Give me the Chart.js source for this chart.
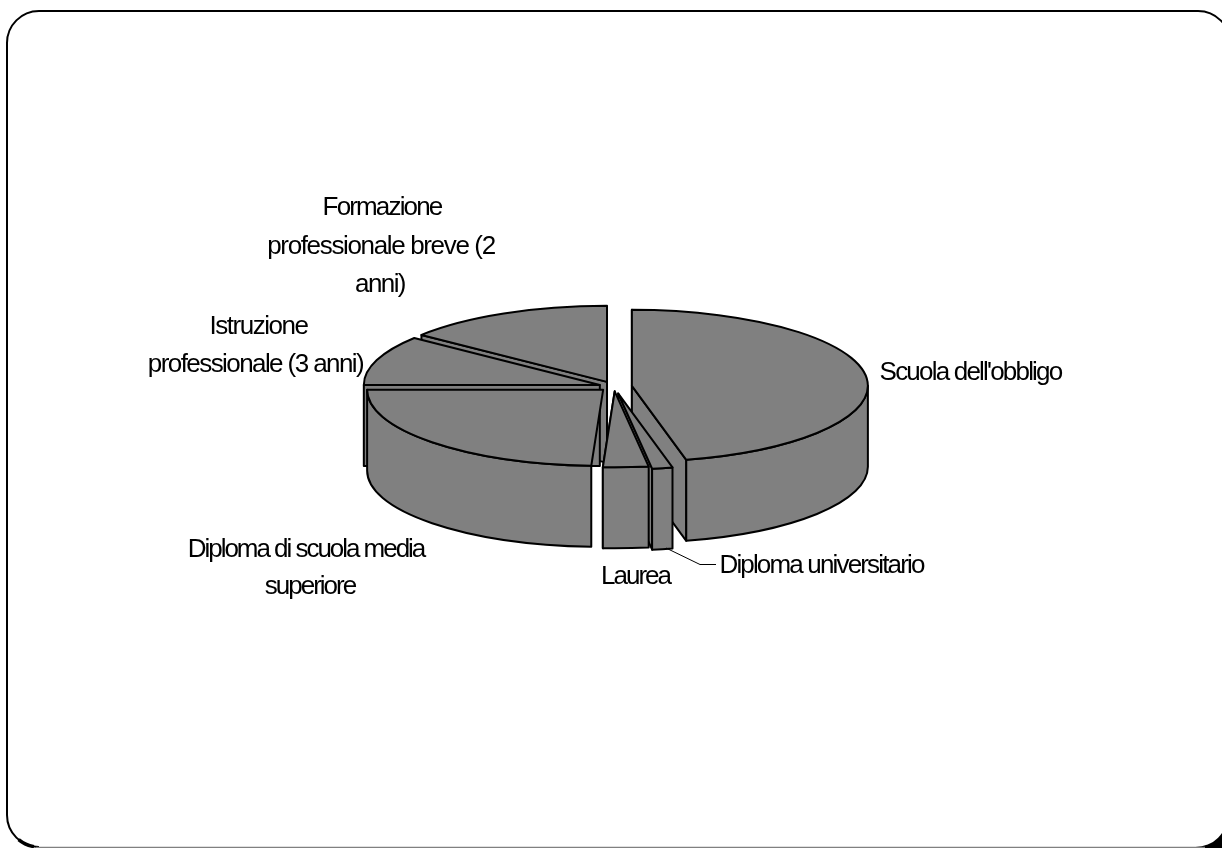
<!DOCTYPE html>
<html>
<head>
<meta charset="utf-8">
<style>html,body{margin:0;padding:0;background:#fff;overflow:hidden}#w{position:absolute;left:0;top:0;width:1222px;height:848px}</style>
<script src="https://cdn.jsdelivr.net/npm/chart.js@4"></script>
</head>
<body>
<div id="w"><canvas id="c" width="1222" height="848"></canvas></div>
<script>
// Data (share, percent)
const categories = ["Scuola dell'obbligo","Diploma universitario","Laurea","Diploma di scuola media superiore","Istruzione professionale (3 anni)","Formazione professionale breve (2 anni)"];
const shares = [46.3,1.4,3.1,24.2,10.6,14.4];
const explosion = [18,22,15,15,15,16];

const labelLines = [
  {lines:["Scuola dell'obbligo"],cx:[970.5],y:373,sp:[1.8]},
  {lines:["Diploma universitario"],cx:[821.5],y:566,sp:[1.84]},
  {lines:["Laurea"],cx:[635.5],y:577,sp:[2]},
  {lines:["Diploma di scuola media","superiore"],cx:[306,310],y:550,step:37,sp:[2.03,2]},
  {lines:["Istruzione","professionale (3 anni)"],cx:[258.5,255.5],y:327,step:38,sp:[1.46,1.58]},
  {lines:["Formazione","professionale breve (2","anni)"],cx:[382,381,380],y:208,step:38.5,sp:[1.85,1.35,1.6]}
];
const squash = 76/236, depth = 81, lineW = 2;

const pie3d = {
  id:'pie3d',
  beforeDraw(chart){
    const c=chart.ctx; c.save();
    c.fillStyle='#fff'; c.fillRect(0,0,1222,848);
    c.fillStyle='#000'; c.fillRect(1180,810,42,38);
    c.fillStyle='#fff'; c.beginPath(); c.roundRect(7,11,1220.5,836,32); c.fill();
    c.strokeStyle='#000'; c.lineWidth=2;
    c.beginPath();
    c.moveTo(1230,43); c.arcTo(1230,11,1198,11,32); c.lineTo(39,11); c.arcTo(7,11,7,43,32); c.lineTo(7,815);
    c.arcTo(7,847,39,847,32); c.stroke();
    c.lineWidth=3.5; c.beginPath(); c.arc(39,815,32,Math.PI*0.55,Math.PI*0.72); c.stroke();
    c.strokeStyle='#808080'; c.lineWidth=1.5; c.beginPath(); c.moveTo(36,847.5); c.lineTo(1205,847.5); c.stroke();
    c.restore();
  },
  beforeDatasetDraw(chart,args){
    const c=chart.ctx, arcs=chart.getDatasetMeta(args.index).data;
    const order=arcs.map((a,i)=>i).sort((p,q)=>Math.sin((arcs[p].startAngle+arcs[p].endAngle)/2)-Math.sin((arcs[q].startAngle+arcs[q].endAngle)/2));
    c.save(); c.lineJoin='round';
    for(const i of order){
      const a=arcs[i], R=a.outerRadius, s=a.startAngle, e=a.endAngle, m=(s+e)/2;
      const cx=a.x+Math.cos(m)*explosion[i], cy=a.y+Math.sin(m)*explosion[i]*squash;
      const px=t=>cx+Math.cos(t)*R, py=t=>cy+Math.sin(t)*R*squash;
      c.fillStyle='#808080'; c.strokeStyle='#000'; c.lineWidth=lineW;
      const face=t=>{c.beginPath();c.moveTo(cx,cy);c.lineTo(px(t),py(t));c.lineTo(px(t),py(t)+depth);c.lineTo(cx,cy+depth);c.closePath();c.fill();c.stroke();};
      if(Math.sin(s)<1e-6) face(s);
      if(Math.sin(e)>1e-6) face(e);
      // outer wall: front half of the rim
      const TAU=Math.PI*2;
      for(const k of [0,1]){
        const lo=Math.max(s,k*TAU), hi=Math.min(e,k*TAU+Math.PI);
        if(hi-lo>1e-6){
          c.beginPath();
          c.ellipse(cx,cy,R,R*squash,0,lo,hi);
          c.ellipse(cx,cy+depth,R,R*squash,0,hi,lo,true);
          c.closePath(); c.fill(); c.stroke();
        }
      }
      // top face, drawn by the library's arc element under a flattening transform
      c.save();
      c.translate(cx,cy); c.scale(1,squash); c.translate(-a.x,-a.y);
      a.draw(c);
      c.restore();
      c.beginPath(); c.moveTo(cx,cy);
      c.ellipse(cx,cy,R,R*squash,0,s,e);
      c.closePath(); c.stroke();
    }
    c.restore();
    return false;
  },
  afterDraw(chart){
    const c=chart.ctx;
    c.save();
    c.strokeStyle='#000'; c.lineWidth=1;
    c.beginPath(); c.moveTo(666,548); c.lineTo(700,564.5); c.lineTo(716,564.5); c.stroke();
    c.fillStyle='#000'; c.font='26px "Liberation Sans"'; c.textAlign='center'; c.textBaseline='middle';
    labelLines.forEach(l=>l.lines.forEach((t,j)=>{
      c.letterSpacing=(-l.sp[j])+'px';
      c.fillText(t,l.cx[j],l.y+j*(l.step||0));
    }));
    c.restore();
  }
};

new Chart(document.getElementById('c'),{
  type:'pie',
  data:{labels:categories,datasets:[{data:shares,backgroundColor:'#808080',borderWidth:0}]},
  options:{
    responsive:false,animation:false,
    radius:236,
    layout:{padding:{left:6,bottom:75}},
    plugins:{legend:{display:false},tooltip:{enabled:false}},
    events:[]
  },
  plugins:[pie3d]
});
</script>
</body>
</html>
